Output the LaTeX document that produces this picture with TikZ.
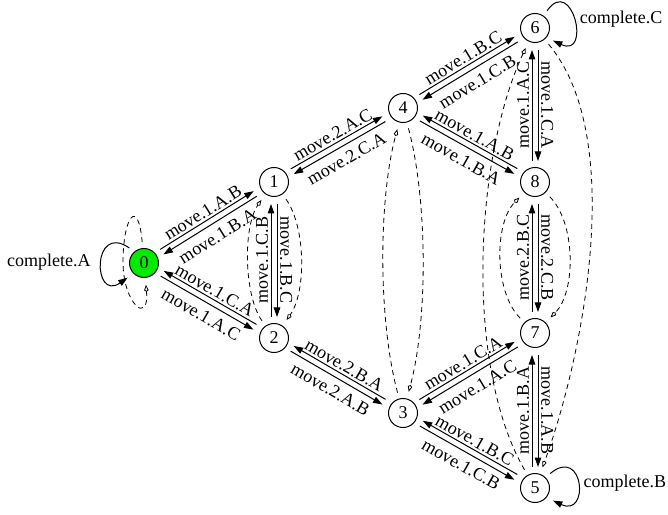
\documentclass[tikz,border=0pt]{standalone}
\usepackage{fontspec}
\setmainfont{Liberation Serif}
\usetikzlibrary{arrows.meta,calc}

% distance of each lane of a two-way connector from the centre line
\newcommand\lanegap{3pt}
% lane on the left of the direction a -> b
\newcommand\laneU[6]{\draw[edge,#3] ($(#1)!\lanegap!90:(#2)$) -- node[lbl,#5]{#4} ($(#2)!\lanegap!-90:(#1)$);}
% lane on the right of the direction a -> b
\newcommand\laneD[6]{\draw[edge,#3] ($(#1)!\lanegap!-90:(#2)$) -- node[lbl,#5]{#4} ($(#2)!\lanegap!90:(#1)$);}

\begin{document}
\begin{tikzpicture}[x=1pt,y=1pt,
  txt/.style={font=\fontsize{18}{20}\selectfont},
  state/.style={circle,draw,line width=1pt,minimum size=29pt,inner sep=0pt,txt},
  lbl/.style={txt,inner sep=1.5pt},
  over/.style={sloped,above,inner ysep=2pt},
  under/.style={sloped,below,inner ysep=6.5pt},
  vleft/.style={rotate=90,anchor=south,inner ysep=2.5pt},
  vright/.style={rotate=-90,anchor=south,inner ysep=2.5pt},
  >={Triangle[length=9.5pt,width=6.5pt]},
  edge/.style={line width=1pt,shorten <=21pt,shorten >=22pt},
  loopedge/.style={line width=1pt,->,shorten <=6pt,shorten >=7pt},
  dsh/.style={line width=0.8pt,dash pattern=on 5pt off 4pt,
    -{Kite[open,length=7pt,width=4.5pt]},shorten <=6pt,shorten >=7pt},
]
\useasboundingbox (0,0) rectangle (668,514);

% states
\node[state,fill={rgb,255:red,0;green,235;blue,0}] (n0) at (144,251) {0};
\node[state] (n1) at (274,332) {1};
\node[state] (n2) at (274,176) {2};
\node[state] (n3) at (403,101) {3};
\node[state] (n4) at (403,406) {4};
\node[state] (n5) at (535,26) {5};
\node[state] (n6) at (535,486) {6};
\node[state] (n7) at (535,181) {7};
\node[state] (n8) at (535,332) {8};

% slanted two-way moves
\laneU{n0}{n1}{->}{move.1.A.B}{over}{}
\laneD{n0}{n1}{<-}{move.1.B.A}{under}{}
\laneU{n0}{n2}{<-}{move.1.C.A}{over}{}
\laneD{n0}{n2}{->}{move.1.A.C}{under}{}
\laneU{n1}{n4}{->}{move.2.A.C}{over}{}
\laneD{n1}{n4}{<-}{move.2.C.A}{under}{}
\laneU{n2}{n3}{<-}{move.2.B.A}{over}{}
\laneD{n2}{n3}{->}{move.2.A.B}{under}{}
\laneU{n4}{n6}{->}{move.1.B.C}{over}{}
\laneD{n4}{n6}{<-}{move.1.C.B}{under}{}
\laneU{n4}{n8}{<-}{move.1.A.B}{over}{}
\laneD{n4}{n8}{->}{move.1.B.A}{under}{}
\laneU{n3}{n7}{->}{move.1.C.A}{over}{}
\laneD{n3}{n7}{<-}{move.1.A.C}{under}{}
\laneU{n3}{n5}{<-}{move.1.B.C}{over}{}
\laneD{n3}{n5}{->}{move.1.C.B}{under}{}

% vertical two-way moves
\laneU{n2}{n1}{->}{move.1.C.B}{vleft}{}
\laneD{n2}{n1}{<-}{move.1.B.C}{vright}{}
\laneU{n8}{n6}{->}{move.1.A.C}{vleft}{}
\laneD{n8}{n6}{<-}{move.1.C.A}{vright}{}
\laneU{n7}{n8}{->}{move.2.B.C}{vleft}{}
\laneD{n7}{n8}{<-}{move.2.C.B}{vright}{}
\laneU{n5}{n7}{->}{move.1.B.A}{vleft}{}
\laneD{n5}{n7}{<-}{move.1.A.B}{vright}{}

% completion loops
\draw[loopedge] (n0.130) .. controls +(145:52) and +(215:50) .. (n0.225)
  node[lbl,pos=0.5,left=10pt] {complete.A};
\draw[loopedge] (n6.55) .. controls +(55:50) and +(-25:50) .. (n6.-40)
  node[lbl,pos=0.5,right=5pt] {complete.C};
\draw[loopedge] (n5.45) .. controls +(40:50) and +(-25:48) .. (n5.-40)
  node[lbl,pos=0.5,right=5pt] {complete.B};

% dashed transitions
\coordinate (c0) at (123,252);
\draw[dsh] (n0.95) .. controls +(95:52) and +(90:45) .. (c0)
  .. controls +(-90:42) and +(-85:48) .. (n0.-85);
\draw[dsh] (n2) to[out=125,in=-125,looseness=0.75] (n1);
\draw[dsh] (n1) to[out=-55,in=55,looseness=0.8] (n2);
\draw[dsh] (n3) to[out=105,in=-105,looseness=0.75] (n4);
\draw[dsh] (n4) to[out=-75,in=75,looseness=0.75] (n3);
\draw[dsh] (n7) to[out=135,in=-135,looseness=0.85] (n8);
\draw[dsh] (n8) to[out=-45,in=45,looseness=0.85] (n7);
\draw[dsh] (n5) to[out=120,in=-115,looseness=0.75] (n6);
\draw[dsh] (n6) to[out=-50,in=70,looseness=0.75] (n5);
\end{tikzpicture}
\end{document}
